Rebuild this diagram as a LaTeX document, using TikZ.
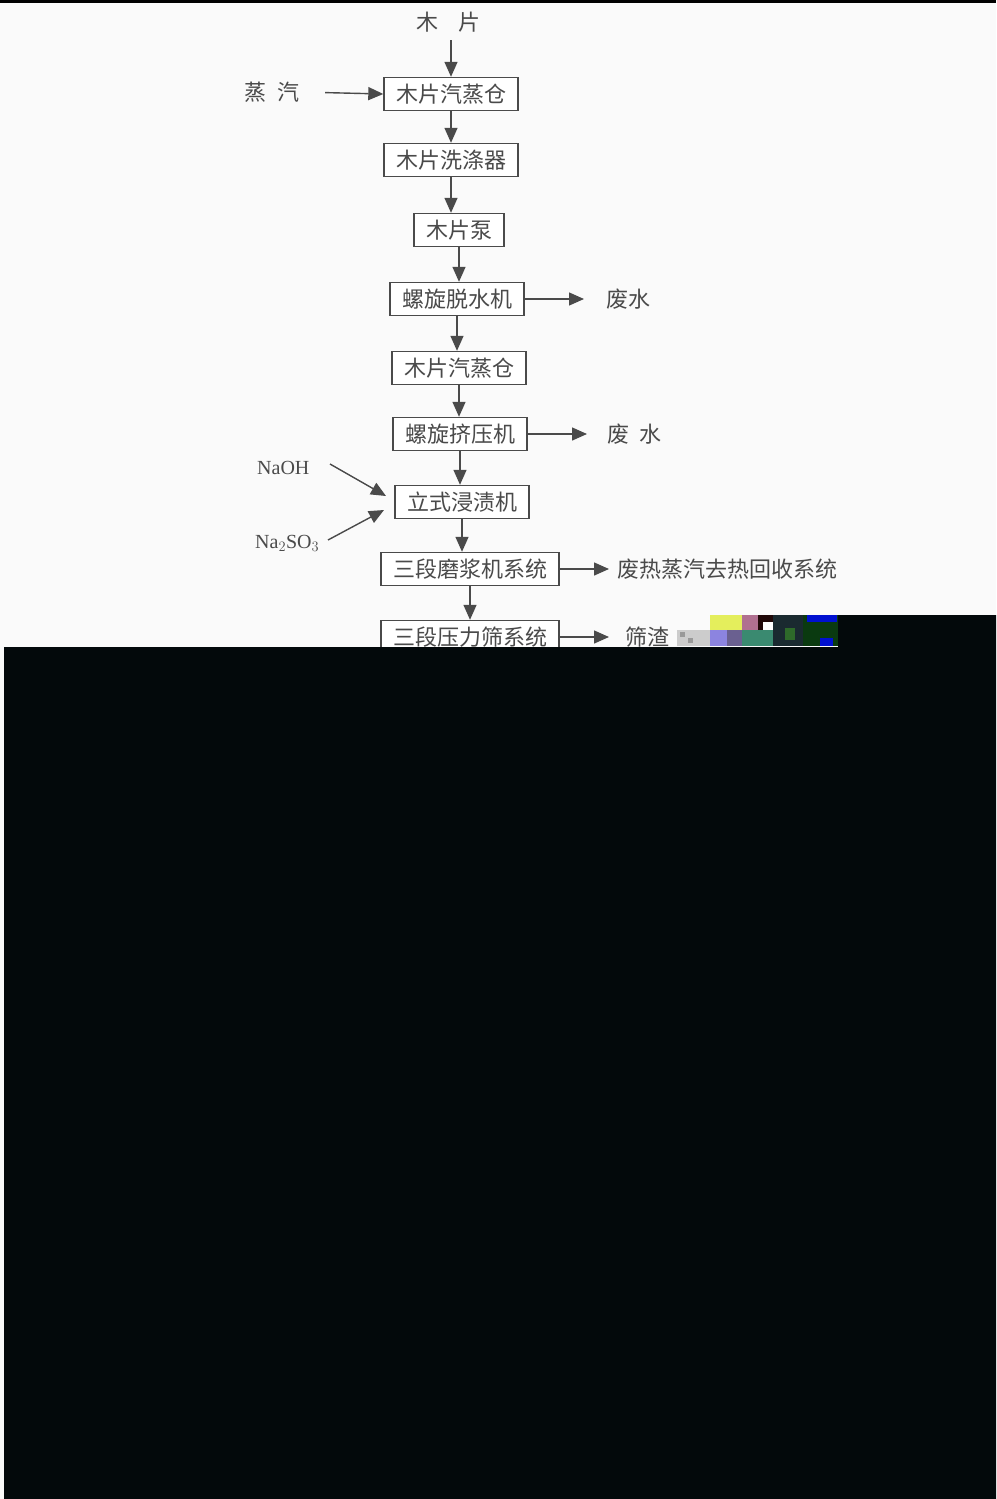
\documentclass[tikz,border=0pt]{standalone}
\usepackage{fontspec}
\setmainfont{Liberation Serif}
\newfontfamily\cjk{Noto Sans CJK SC}
\usetikzlibrary{arrows.meta}
\definecolor{inkc}{HTML}{4A4A4A}
\definecolor{paperc}{HTML}{FAFAFA}
\definecolor{voidc}{HTML}{03090B}
\definecolor{gA}{HTML}{E4EE5C}
\definecolor{gB}{HTML}{8C84E0}
\definecolor{gC}{HTML}{6A6090}
\definecolor{gD}{HTML}{B07090}
\definecolor{gE}{HTML}{200808}
\definecolor{gF}{HTML}{3A8A70}
\definecolor{gG}{HTML}{1A2A30}
\definecolor{gH}{HTML}{2E6A2A}
\definecolor{gI}{HTML}{0A3A10}
\definecolor{gJ}{HTML}{0010D0}
\begin{document}
\begin{tikzpicture}[x=1pt,y=-1pt,
  ink/.style={draw=inkc, line width=1.4pt},
  pbox/.style={ink, fill=white, font=\cjk\fontsize{22}{22}\selectfont, text=inkc, inner xsep=12pt, inner ysep=0pt, minimum height=33pt},
  lbl/.style={font=\cjk\fontsize{22}{22}\selectfont, text=inkc, inner sep=0pt},
  latin/.style={font=\fontsize{20}{20}\selectfont, text=inkc, inner sep=0pt},
  flow/.style={ink, -{Triangle[length=15pt,width=13pt]}}]
\useasboundingbox (0,0) rectangle (996,1499);
\fill[paperc] (0,0) rectangle (996,1499);
\fill[black] (0,0) rectangle (996,2.5);

% labels and boxes
\node[lbl] (chips) at (448,22) {木\hspace{20pt}片};
\node[lbl] (steam) at (272,92) {蒸\hspace{12pt}汽};
\node[pbox] (b1) at (451,94) {木片汽蒸仓};
\node[pbox] (b2) at (451,160) {木片洗涤器};
\node[pbox] (b3) at (459,230) {木片泵};
\node[pbox] (b4) at (457,299) {螺旋脱水机};
\node[lbl, anchor=west] (w1) at (606,299) {废水};
\node[pbox] (b5) at (459,368) {木片汽蒸仓};
\node[pbox] (b6) at (460,434) {螺旋挤压机};
\node[lbl, anchor=west] (w2) at (607,434) {废\hspace{10pt}水};
\node[pbox] (b7) at (462,502) {立式浸渍机};
\node[latin, anchor=west] (naoh) at (257,468) {NaOH};
\node[latin, anchor=west] (na2) at (255,543) {Na$_2$SO$_3$};
\node[pbox] (b8) at (470,569) {三段磨浆机系统};
\node[lbl, anchor=west] (heat) at (617,569) {废热蒸汽去热回收系统};
\node[pbox] (b9) at (470,637) {三段压力筛系统};
\node[lbl, anchor=west] (res) at (625,637) {筛渣};

% connectors
\coordinate (c0) at (451,40);
\draw[flow] (c0) -- (b1.north);
\draw[flow, shorten <=25pt] (steam.east) -- (b1.west);
\draw[flow] (b1.south) -- (b1.south |- b2.north);
\draw[flow] (b2.south) -- (b2.south |- b3.north);
\draw[flow] (b3.south) -- (b3.south |- b4.north);
\draw[flow] (b4.south) -- (b4.south |- b5.north);
\draw[flow] (b5.south) -- (b5.south |- b6.north);
\draw[flow] (b6.south) -- (b6.south |- b7.north);
\draw[flow] (b7.south) -- (b7.south |- b8.north);
\draw[flow] (b8.south) -- (b8.south |- b9.north);
\draw[flow, shorten >=22pt] (b4.east) -- (w1.west);
\draw[flow, shorten >=20pt] (b6.east) -- (w2.west);
\draw[flow, shorten >=8pt] (b8.east) -- (heat.west);
\draw[flow, shorten >=16pt] (b9.east) -- (res.west);
\coordinate (n1) at (330,464);
\coordinate (n2) at (386,496);
\draw[flow] (n1) -- (n2);
\coordinate (m1) at (328,540);
\coordinate (m2) at (384,510);
\draw[flow] (m1) -- (m2);

% corrupted lower part of the scan
\fill[voidc] (4,647) -- (838,647) -- (838,615) -- (996,615) -- (996,1499) -- (4,1499) -- cycle;
\fill[gray!40] (677,630) rectangle (710,646);
\fill[gray!80] (680,632) rectangle (685,637);
\fill[gray!80] (688,638) rectangle (693,643);
\fill[gA] (710,615) rectangle (742,630);
\fill[gB] (710,630) rectangle (727,646);
\fill[gC] (727,630) rectangle (742,646);
\fill[gD] (742,615) rectangle (758,630);
\fill[gE] (758,615) rectangle (773,630);
\fill[white] (763,622) rectangle (773,630);
\fill[gF] (742,630) rectangle (773,646);
\fill[gG] (773,615) rectangle (803,646);
\fill[gH] (785,628) rectangle (795,640);
\fill[gI] (803,615) rectangle (838,646);
\fill[gJ] (807,615) rectangle (837,622);
\fill[gJ] (820,638) rectangle (833,646);
\end{tikzpicture}
\end{document}
